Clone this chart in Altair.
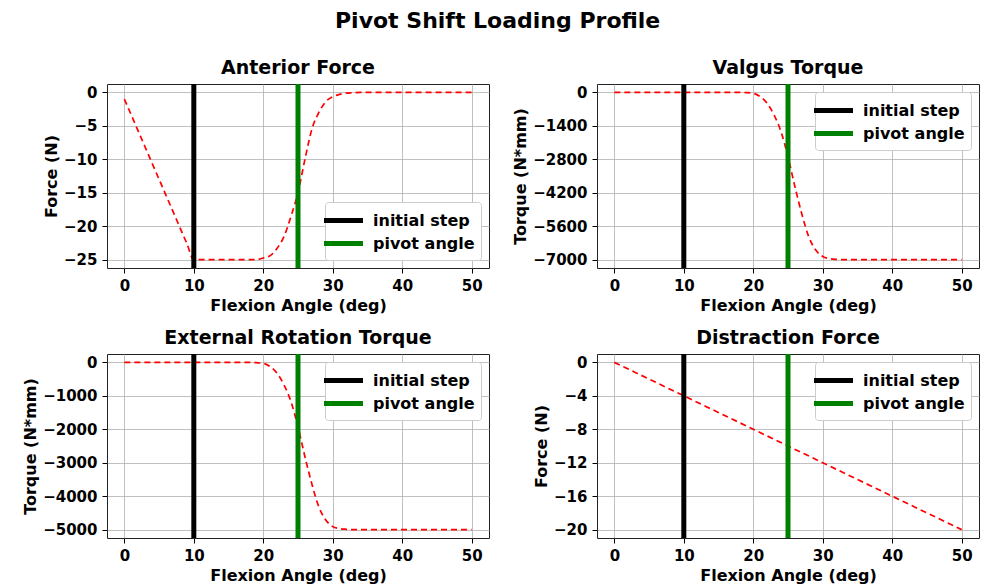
import altair as alt
import pandas as pd

# ---- data ----
angle = list(range(0, 51))

anterior_force = [
    -1.0, -3.4, -5.8, -8.2, -10.6, -13.0, -15.4, -17.8, -20.2, -22.6, -25.0,
    -25.0, -25.0, -25.0, -25.0, -25.0, -25.0, -25.0, -25.0, -25.0,
    -24.75, -24.4, -23.3, -21.5, -18.5, -15.0, -10.0, -5.5, -3.0, -1.4, -0.65,
    -0.3, -0.1, -0.05,
    0, 0, 0, 0, 0, 0, 0, 0, 0, 0, 0, 0, 0, 0, 0, 0, 0,
]

valgus_torque = [
    0, 0, 0, 0, 0, 0, 0, 0, 0, 0, 0, 0, 0, 0, 0, 0, 0, 0, 0,
    -10, -40, -180, -460, -950, -1650, -2700, -3950, -5100, -6050, -6600, -6870,
    -6960, -6990,
    -7000, -7000, -7000, -7000, -7000, -7000, -7000, -7000, -7000, -7000,
    -7000, -7000, -7000, -7000, -7000, -7000, -7000, -7000,
]

external_torque = [
    0, 0, 0, 0, 0, 0, 0, 0, 0, 0, 0, 0, 0, 0, 0, 0, 0, 0, 0,
    -10, -30, -130, -330, -680, -1180, -1930, -2820, -3640, -4320, -4710, -4910,
    -4970, -4990,
    -5000, -5000, -5000, -5000, -5000, -5000, -5000, -5000, -5000, -5000,
    -5000, -5000, -5000, -5000, -5000, -5000, -5000, -5000,
]

distraction_angle = [0, 10, 20, 30, 40, 50]
distraction_force = [0, -4, -8, -12, -16, -20]

marker_labels = ["initial step", "pivot angle"]
marker_angles = [10, 25]
marker_colors = ["#000000", "#008000"]

x_ticks = [0, 10, 20, 30, 40, 50]

FONT = "DejaVu Sans"

markers = pd.DataFrame({"angle": marker_angles, "label": marker_labels})


def panel(xs, ys, title, ytitle, yticks, ydomain, legend_orient):
    df = pd.DataFrame({"angle": xs, "value": ys})
    line = alt.Chart(df).mark_line(
        color="#ff0000", strokeDash=[6, 4], strokeWidth=1.7, interpolate="monotone"
    ).encode(
        x=alt.X("angle:Q",
                scale=alt.Scale(domain=[-2.5, 52.5], nice=False, zero=False),
                axis=alt.Axis(values=x_ticks, title="Flexion Angle (deg)", format="d")),
        y=alt.Y("value:Q",
                scale=alt.Scale(domain=ydomain, nice=False, zero=False),
                axis=alt.Axis(values=yticks, title=ytitle, format="d")),
    )
    rules = alt.Chart(markers).mark_rule(strokeWidth=5).encode(
        x=alt.X("angle:Q"),
        color=alt.Color(
            "label:N",
            scale=alt.Scale(domain=marker_labels, range=marker_colors),
            legend=alt.Legend(
                title=None, orient=legend_orient, offset=8,
                symbolType="M-2,0H2", symbolSize=380, symbolStrokeWidth=5,
                labelFontSize=16, labelFontWeight="bold", labelFont=FONT,
                labelColor="black", labelOffset=17, rowPadding=0,
                padding=6, fillColor="white", strokeColor="#cccccc",
                cornerRadius=3,
            ),
        ),
    )
    return alt.layer(line, rules).properties(width=382, height=184, title=title)


p1 = panel(angle, anterior_force, "Anterior Force", "Force (N)",
           [0, -5, -10, -15, -20, -25], [-26.25, 1.25], "bottom-right")
p2 = panel(angle, valgus_torque, "Valgus Torque", "Torque (N*mm)",
           [0, -1400, -2800, -4200, -5600, -7000], [-7350, 350], "top-right")
p3 = panel(angle, external_torque, "External Rotation Torque", "Torque (N*mm)",
           [0, -1000, -2000, -3000, -4000, -5000], [-5250, 250], "top-right")
p4 = panel(distraction_angle, distraction_force, "Distraction Force", "Force (N)",
           [0, -4, -8, -12, -16, -20], [-21, 1], "top-right")

chart = alt.concat(
    p1, p2, p3, p4, columns=2, spacing={"row": 86, "column": 108}, bounds="flush"
).resolve_scale(color="independent").resolve_legend(color="independent").properties(
    title=alt.TitleParams("Pivot Shift Loading Profile", fontSize=22, anchor="start",
                          frame="group", offset=25, dx=228, font=FONT,
                          fontWeight="bold", color="black"),
    padding={"left": 22, "top": 10, "right": 2, "bottom": 1},
).configure(font=FONT).configure_axis(
    labelFont=FONT, labelFontSize=15, labelFontWeight="bold", labelColor="black",
    titleFont=FONT, titleFontSize=16, titleFontWeight="bold", titleColor="black",
    gridColor="#b0b0b0", gridWidth=0.8, gridOpacity=1, domain=False,
    tickColor="black", tickSize=5, tickWidth=1, labelPadding=5, titlePadding=4,
).configure_view(stroke="#222222", strokeWidth=1).configure_title(
    font=FONT, fontSize=19, fontWeight="bold", color="black", offset=4
)

chart.save("out.html", embed_options={"renderer": "svg", "actions": False})
